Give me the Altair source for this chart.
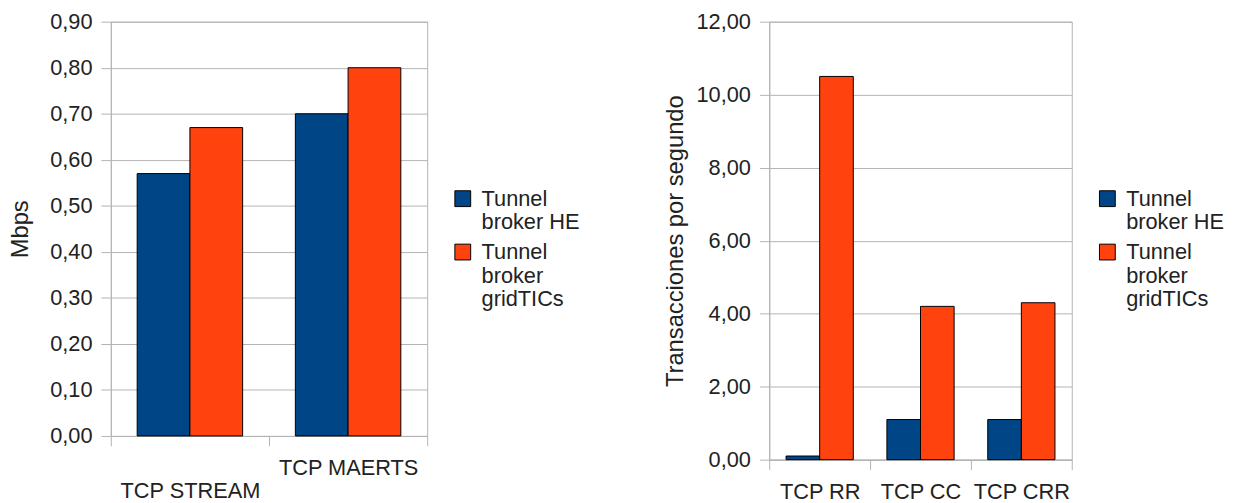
import altair as alt
import pandas as pd

# ---- data ----
series = ["Tunnel broker HE", "Tunnel broker gridTICs"]
colors = ["#004586", "#ff420e"]

left_categories = ["TCP STREAM", "TCP MAERTS"]
left_he = [0.57, 0.70]
left_gridtics = [0.67, 0.80]
left_ticks = [0.0, 0.1, 0.2, 0.3, 0.4, 0.5, 0.6, 0.7, 0.8, 0.9]

right_categories = ["TCP RR", "TCP CC", "TCP CRR"]
right_he = [0.1, 1.1, 1.1]
right_gridtics = [10.5, 4.2, 4.3]
right_ticks = [0, 2, 4, 6, 8, 10, 12]

GRID = "#b3b3b3"
TEXT = "#222222"
FS = 22
TFS = 24


def frame(cats, he, gt):
    rows = []
    for c, a, b in zip(cats, he, gt):
        rows.append({"cat": c, "serie": series[0], "v": a})
        rows.append({"cat": c, "serie": series[1], "v": b})
    return pd.DataFrame(rows)


legend_expr = ("datum.label == 'Tunnel broker HE' ? ['Tunnel', 'broker HE'] : "
               "['Tunnel', 'broker', 'gridTICs']")


def panel(df, cats, ticks, title, w, h, x_label_expr, title_pad):
    return alt.Chart(df).mark_bar(stroke="black", strokeWidth=1).encode(
        x=alt.X("cat:N", sort=cats,
                scale=alt.Scale(paddingInner=0, paddingOuter=0),
                axis=alt.Axis(title=None, labelAngle=0, tickBand="extent",
                              tickSize=10, labelPadding=12,
                              labelBaseline="top", labelLineHeight=23.5,
                              labelExpr=x_label_expr, grid=False)),
        xOffset=alt.XOffset("serie:N", sort=series,
                            scale=alt.Scale(paddingOuter=0.5, paddingInner=0)),
        y=alt.Y("v:Q",
                scale=alt.Scale(domain=[ticks[0], ticks[-1]], nice=False),
                axis=alt.Axis(title=title, values=ticks, tickSize=10,
                              labelPadding=9, titlePadding=title_pad,
                              labelExpr="replace(format(datum.value, '.2f'), '.', ',')")),
        color=alt.Color("serie:N", sort=series,
                        scale=alt.Scale(domain=series, range=colors),
                        legend=alt.Legend(title=None, orient="none",
                                          legendX=w + 25, legendY=168,
                                          labelExpr=legend_expr)),
    ).properties(width=w, height=h)


left = panel(frame(left_categories, left_he, left_gridtics), left_categories,
             left_ticks, "Mbps", 320, 419,
             "datum.value == 'TCP STREAM' ? ['', datum.label] : datum.label", 17)
right = panel(frame(right_categories, right_he, right_gridtics), right_categories,
              right_ticks, "Transacciones por segundo", 306, 443, "datum.label", 9)

chart = alt.hconcat(left, right, spacing=346, bounds="flush").resolve_scale(
    color="independent", x="independent", xOffset="independent", y="independent"
).properties(
    padding={"left": 0, "top": -1, "right": 0, "bottom": 0}
).configure(
    font="Liberation Sans"
).configure_view(
    stroke=GRID, strokeWidth=1
).configure_axis(
    domainColor=GRID, tickColor=GRID, gridColor=GRID,
    labelColor=TEXT, titleColor=TEXT,
    labelFontSize=FS, titleFontSize=TFS, titleFontWeight="normal",
    labelFont="Liberation Sans", titleFont="Liberation Sans"
).configure_legend(
    labelFontSize=FS, labelColor=TEXT, labelFont="Liberation Sans",
    symbolType="square", symbolSize=256, symbolStrokeColor="black",
    symbolStrokeWidth=1, labelOffset=8, labelLimit=300,
    labelBaseline="middle", rowPadding=8, padding=0
)

chart.save("out.html", embed_options={"renderer": "svg", "actions": False})
